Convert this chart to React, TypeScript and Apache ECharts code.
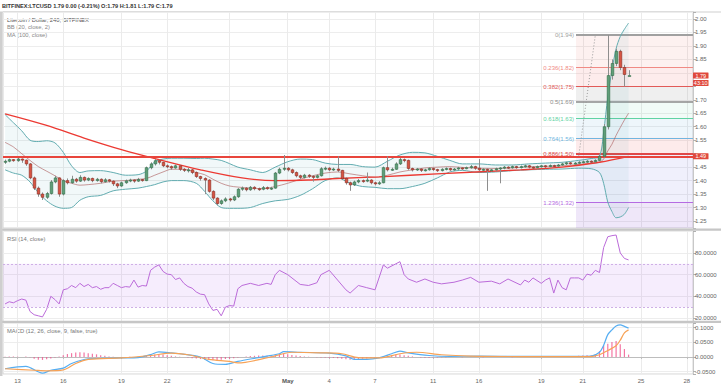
import React, { useEffect, useRef } from 'react';
import * as echarts from 'echarts';

const FONT = '"Liberation Sans", Arial, sans-serif';

// ---------- DATA ----------
// candles: [open, close, low, high] (4H bars)
const candles: number[][] = [
  [1.468, 1.472, 1.462, 1.478], [1.472, 1.478, 1.468, 1.482], [1.478, 1.474, 1.470, 1.480], [1.474, 1.480, 1.470, 1.484],
  [1.480, 1.476, 1.466, 1.482], [1.476, 1.462, 1.455, 1.478], [1.462, 1.410, 1.405, 1.465], [1.410, 1.372, 1.365, 1.415],
  [1.372, 1.350, 1.340, 1.378], [1.350, 1.338, 1.328, 1.356], [1.338, 1.352, 1.332, 1.358], [1.352, 1.395, 1.348, 1.402],
  [1.395, 1.410, 1.390, 1.418], [1.410, 1.350, 1.340, 1.412], [1.350, 1.400, 1.345, 1.405], [1.400, 1.392, 1.386, 1.408],
  [1.392, 1.405, 1.388, 1.418], [1.405, 1.398, 1.392, 1.410], [1.398, 1.412, 1.395, 1.420], [1.412, 1.402, 1.396, 1.415],
  [1.402, 1.408, 1.398, 1.412], [1.408, 1.400, 1.394, 1.411], [1.400, 1.405, 1.396, 1.410], [1.405, 1.396, 1.390, 1.408],
  [1.396, 1.403, 1.392, 1.409], [1.403, 1.398, 1.393, 1.406], [1.398, 1.388, 1.380, 1.401], [1.388, 1.380, 1.372, 1.392],
  [1.380, 1.392, 1.377, 1.396], [1.392, 1.399, 1.388, 1.404], [1.399, 1.402, 1.394, 1.407], [1.402, 1.398, 1.392, 1.405],
  [1.398, 1.404, 1.395, 1.410], [1.404, 1.400, 1.396, 1.406], [1.400, 1.448, 1.398, 1.452], [1.448, 1.462, 1.442, 1.468],
  [1.462, 1.474, 1.456, 1.480], [1.474, 1.468, 1.460, 1.478], [1.468, 1.455, 1.450, 1.470], [1.455, 1.452, 1.446, 1.460],
  [1.452, 1.447, 1.440, 1.456], [1.447, 1.455, 1.444, 1.460], [1.455, 1.442, 1.436, 1.458], [1.442, 1.438, 1.432, 1.446],
  [1.438, 1.440, 1.430, 1.447], [1.440, 1.430, 1.424, 1.443], [1.430, 1.415, 1.410, 1.434], [1.415, 1.408, 1.400, 1.418],
  [1.408, 1.402, 1.350, 1.412], [1.402, 1.360, 1.355, 1.405], [1.360, 1.335, 1.328, 1.364], [1.335, 1.315, 1.308, 1.338],
  [1.315, 1.325, 1.310, 1.330], [1.325, 1.332, 1.320, 1.338], [1.332, 1.328, 1.322, 1.336], [1.328, 1.340, 1.324, 1.345],
  [1.340, 1.368, 1.336, 1.372], [1.368, 1.372, 1.362, 1.378], [1.372, 1.366, 1.360, 1.376], [1.366, 1.375, 1.362, 1.380],
  [1.375, 1.370, 1.364, 1.379], [1.370, 1.368, 1.362, 1.374], [1.368, 1.374, 1.364, 1.380], [1.374, 1.370, 1.366, 1.378],
  [1.370, 1.372, 1.365, 1.377], [1.372, 1.428, 1.370, 1.432], [1.428, 1.442, 1.424, 1.448], [1.442, 1.446, 1.436, 1.495],
  [1.446, 1.440, 1.434, 1.450], [1.440, 1.430, 1.425, 1.444], [1.430, 1.418, 1.412, 1.434], [1.418, 1.412, 1.405, 1.422],
  [1.412, 1.420, 1.408, 1.425], [1.420, 1.416, 1.410, 1.424], [1.416, 1.412, 1.396, 1.420], [1.412, 1.418, 1.408, 1.423],
  [1.418, 1.444, 1.415, 1.450], [1.444, 1.446, 1.438, 1.452], [1.446, 1.440, 1.435, 1.450], [1.440, 1.443, 1.436, 1.448],
  [1.443, 1.438, 1.432, 1.490], [1.438, 1.408, 1.402, 1.440], [1.408, 1.392, 1.385, 1.412], [1.392, 1.384, 1.362, 1.396],
  [1.384, 1.395, 1.380, 1.400], [1.395, 1.400, 1.390, 1.406], [1.400, 1.398, 1.392, 1.404], [1.398, 1.402, 1.394, 1.430],
  [1.402, 1.392, 1.386, 1.405], [1.392, 1.388, 1.382, 1.396], [1.388, 1.392, 1.384, 1.398], [1.392, 1.448, 1.390, 1.452],
  [1.448, 1.440, 1.434, 1.490], [1.440, 1.442, 1.436, 1.448], [1.442, 1.462, 1.440, 1.468], [1.462, 1.478, 1.458, 1.484],
  [1.478, 1.475, 1.468, 1.482], [1.475, 1.445, 1.440, 1.478], [1.445, 1.440, 1.434, 1.448], [1.440, 1.443, 1.436, 1.447],
  [1.443, 1.438, 1.432, 1.446], [1.438, 1.440, 1.434, 1.444], [1.440, 1.445, 1.437, 1.450], [1.445, 1.441, 1.436, 1.448],
  [1.441, 1.437, 1.432, 1.444], [1.437, 1.442, 1.434, 1.446], [1.442, 1.445, 1.438, 1.449], [1.445, 1.440, 1.436, 1.448],
  [1.440, 1.443, 1.437, 1.447], [1.443, 1.447, 1.440, 1.451], [1.447, 1.445, 1.440, 1.450], [1.445, 1.448, 1.442, 1.452],
  [1.448, 1.452, 1.444, 1.458], [1.452, 1.446, 1.440, 1.455], [1.446, 1.440, 1.436, 1.480], [1.440, 1.442, 1.436, 1.446],
  [1.442, 1.438, 1.362, 1.445], [1.438, 1.440, 1.434, 1.444], [1.440, 1.444, 1.436, 1.448], [1.444, 1.447, 1.390, 1.450],
  [1.447, 1.450, 1.442, 1.454], [1.450, 1.448, 1.443, 1.453], [1.448, 1.452, 1.444, 1.456], [1.452, 1.449, 1.444, 1.455],
  [1.449, 1.452, 1.445, 1.456], [1.452, 1.455, 1.448, 1.459], [1.455, 1.450, 1.445, 1.458], [1.450, 1.448, 1.443, 1.453],
  [1.448, 1.452, 1.445, 1.456], [1.452, 1.455, 1.448, 1.458], [1.455, 1.452, 1.447, 1.458], [1.452, 1.456, 1.449, 1.460],
  [1.456, 1.454, 1.450, 1.459], [1.454, 1.458, 1.451, 1.462], [1.458, 1.462, 1.455, 1.466], [1.462, 1.466, 1.458, 1.470],
  [1.466, 1.463, 1.459, 1.469], [1.463, 1.465, 1.460, 1.469], [1.465, 1.468, 1.462, 1.472], [1.468, 1.470, 1.464, 1.474],
  [1.470, 1.472, 1.466, 1.476], [1.472, 1.470, 1.465, 1.475], [1.470, 1.475, 1.467, 1.479], [1.475, 1.490, 1.472, 1.500],
  [1.490, 1.600, 1.486, 1.610], [1.600, 1.790, 1.590, 1.940], [1.790, 1.835, 1.775, 1.850], [1.835, 1.880, 1.825, 1.890],
  [1.880, 1.820, 1.810, 1.886], [1.820, 1.794, 1.750, 1.830], [1.790, 1.790, 1.790, 1.810],
];

const TOTAL_SLOTS = 166;

// x-axis labels (category index -> text)
const xLabelIdx = [3, 14, 28, 39, 54, 68, 78, 89, 103, 114, 129, 139, 153, 164];
const xLabelText = ['13', '16', '19', '22', '27', 'May', '4', '7', '11', '16', '19', '21', '25', '28'];

// Bollinger Bands (20, close, 2) read at candle indices
const bbIdx = [0, 2, 4, 6, 8, 10, 12, 14, 16, 18, 20, 23, 26, 29, 32, 34, 36, 38, 40, 43, 46, 48, 50, 52, 54, 56, 59, 62, 65, 68, 71, 74, 77, 80, 83, 86, 89, 92, 95, 98, 101, 104, 107, 110, 114, 118, 122, 126, 130, 134, 138, 141, 143, 144, 145, 146, 147, 148, 149, 150];
const bbUpper = [1.645, 1.615, 1.585, 1.55, 1.545, 1.548, 1.54, 1.505, 1.455, 1.43, 1.436, 1.437, 1.43, 1.42, 1.422, 1.435, 1.47, 1.48, 1.483, 1.483, 1.482, 1.483, 1.48, 1.475, 1.463, 1.45, 1.44, 1.43, 1.45, 1.47, 1.48, 1.478, 1.465, 1.46, 1.46, 1.452, 1.45, 1.472, 1.495, 1.505, 1.503, 1.49, 1.475, 1.462, 1.462, 1.458, 1.458, 1.462, 1.465, 1.468, 1.475, 1.482, 1.49, 1.58, 1.71, 1.81, 1.89, 1.935, 1.962, 1.985];
const bbMid = [1.542, 1.525, 1.50, 1.475, 1.452, 1.435, 1.418, 1.40, 1.39, 1.383, 1.385, 1.39, 1.398, 1.40, 1.405, 1.408, 1.42, 1.432, 1.442, 1.442, 1.43, 1.422, 1.405, 1.39, 1.38, 1.376, 1.372, 1.37, 1.378, 1.39, 1.405, 1.418, 1.428, 1.432, 1.425, 1.418, 1.412, 1.42, 1.432, 1.44, 1.447, 1.45, 1.452, 1.449, 1.446, 1.445, 1.447, 1.451, 1.453, 1.455, 1.46, 1.464, 1.468, 1.48, 1.51, 1.535, 1.568, 1.597, 1.625, 1.65];
const bbLower = [1.44, 1.428, 1.42, 1.395, 1.355, 1.325, 1.305, 1.297, 1.30, 1.327, 1.34, 1.345, 1.362, 1.368, 1.372, 1.378, 1.385, 1.395, 1.40, 1.40, 1.39, 1.36, 1.325, 1.30, 1.297, 1.297, 1.30, 1.315, 1.325, 1.33, 1.345, 1.37, 1.40, 1.41, 1.39, 1.378, 1.375, 1.37, 1.37, 1.378, 1.39, 1.41, 1.432, 1.438, 1.43, 1.432, 1.437, 1.44, 1.442, 1.443, 1.446, 1.444, 1.43, 1.39, 1.32, 1.285, 1.262, 1.265, 1.275, 1.30];

// MA (100, close)
const maIdx = [0, 10, 19, 28, 37, 47, 57, 65, 73, 80, 90, 105, 124, 134, 143, 150];
const maVal = [1.648, 1.605, 1.558, 1.515, 1.478, 1.44, 1.41, 1.40, 1.402, 1.408, 1.414, 1.426, 1.44, 1.45, 1.468, 1.49];

// Horizontal level
const hLevel = 1.49;

// Fibonacci retracement
const fibStartIdx = 137;
const fibPrices = [1.94, 1.822, 1.75, 1.69, 1.632, 1.56, 1.497, 1.32];
const fibLabels = ['0(1.94)', '0.236(1.82)', '0.382(1.75)', '0.5(1.69)', '0.618(1.63)', '0.764(1.56)', '0.886(1.50)', '1.236(1.32)'];
const fibTrendIdx = [138, 142];
const fibTrendVal = [1.49, 1.94];

// Price tags on the right scale
const lastPrice = 1.79;
const countdown = '43:10';

// RSI (14, close)
const rsiIdx = [0, 1, 2, 3, 4, 5, 6, 7, 8, 9, 10, 11, 12, 13, 14, 15, 16, 17, 18, 19, 20, 21, 22, 23, 24, 25, 26, 27, 28, 29, 30, 31, 32, 33, 34, 35, 36, 37, 38, 39, 40, 41, 42, 43, 44, 45, 46, 47, 48, 49, 50, 51, 52, 53, 54, 55, 56, 57, 59, 61, 63, 64, 65, 66, 68, 70, 71, 73, 75, 76, 78, 80, 82, 83, 85, 87, 89, 91, 92, 94, 95, 96, 97, 99, 101, 103, 105, 108, 110, 112, 114, 117, 119, 121, 124, 125, 126, 127, 129, 130, 131, 132, 133, 134, 135, 136, 137, 138, 139, 140, 141, 142, 143, 144, 145, 146, 147, 148, 149, 150];
const rsiVal = [33, 35, 34, 36, 37.5, 36.5, 26, 23, 22, 21, 28, 40, 37, 33, 46, 47, 50, 48, 52, 49, 51, 48, 49, 46.5, 48, 48, 52, 50, 48, 49, 48.5, 55, 48.5, 50, 49.5, 64, 67, 69, 63, 60.5, 60, 55.5, 57, 52, 49, 47.5, 44, 42, 41.5, 33, 27, 28, 22, 30, 31.5, 31, 47, 50, 52, 50, 52, 51, 60, 64, 60, 54, 51, 50, 52.5, 60, 64, 55, 46, 43, 50, 48, 46, 69, 66, 70, 72, 60, 56, 53, 56, 53, 51.5, 53, 55, 57.5, 53, 54, 51.5, 56, 50.5, 55, 53, 57, 52, 55, 57, 43, 55, 48, 46, 57, 57, 57, 55, 60.5, 59.5, 64, 62, 85, 95, 96, 96.6, 80, 75, 73.6];

// MACD (12, 26, close, 9)
const macdIdx = [0, 5, 9, 11, 14, 16, 20, 23, 28, 32, 35, 37, 40, 42, 47, 50, 53, 56, 61, 66, 67, 71, 78, 82, 84, 87, 90, 93, 95, 97, 102, 107, 114, 124, 134, 141, 143, 144, 145, 146, 147, 148, 149, 150];
const macdVal = [-0.040, -0.032, -0.055, -0.045, -0.038, -0.022, -0.006, -0.005, -0.003, -0.002, 0.008, 0.017, 0.014, 0.011, 0.000, -0.022, -0.025, -0.015, -0.002, 0.011, 0.018, 0.016, 0.013, 0.004, -0.008, -0.008, -0.003, 0.011, 0.020, 0.014, 0.005, 0.002, 0.003, 0.002, 0.002, 0.003, 0.016, 0.040, 0.076, 0.092, 0.105, 0.109, 0.104, 0.098];
const signalIdx = [0, 7, 10, 14, 17, 20, 28, 35, 40, 44, 49, 54, 56, 64, 69, 76, 81, 85, 90, 95, 99, 105, 112, 124, 141, 143, 145, 147, 148, 149, 150];
const signalVal = [-0.040, -0.045, -0.047, -0.044, -0.022, -0.008, -0.003, 0.005, 0.013, 0.0075, -0.008, -0.015, -0.020, 0.000, 0.016, 0.014, 0.011, -0.002, -0.003, 0.011, 0.016, 0.0075, 0.003, 0.0015, 0.0015, 0.0075, 0.022, 0.038, 0.057, 0.082, 0.092];
// histogram, in thousandths, one per candle
const histMilli = [
  1, 2, 2, 1, 0, 2, -1, -6, -9, -10, -8, -5, -2, 2, 6, 10, 13, 15, 16, 15, 13, 11, 9,
  6, 4, 2, 1, 0, -1, 0, 1, 0, 1, 0, 3, 6, 8, 9, 8, 6, 4, 2, 1, 0, -2, -4, -5,
  -7, -9, -10, -11, -10, -9, -7, -6, -4, -2, 0, 2, 3, 4, 5, 5, 4, 6, 8, 10, 10, 9, 7, 5, 3, 2,
  1, 0, -1, -2, -2, -3, -3, -4, -6, -8, -9, -9, -8, -6, -5, -3, -2, 0, 3, 5, 7, 8, 8, 6, 4,
  2, 0, -2, -3, -3, -2, -2, -1, -1,
  0, 1, 0, -1, 0, 1, 1, 0, -1, 0, 1, 0, 0, 1, 0, -1, 0, 0, 1, 0, 1, 1, 0, 1, 1, 2, 1, 2, 2, 3, 3, 4, 5, 6,
  6, 10, 20, 40, 45, 51, 54, 43, 27, 8,
];

// ---------- STYLE ----------
const fibColors = ['#a0a0a0', '#f08a84', '#e25a58', '#8c8c8c', '#5fd3a3', '#70b6e0', '#e04848', '#b56be2'];
const fibWidths = [2, 1, 1, 1.5, 1, 1, 2, 1];
const fibFills = [
  'rgba(235,90,80,0.085)', 'rgba(235,80,80,0.11)', 'rgba(110,110,110,0.11)', 'rgba(60,200,140,0.07)',
  'rgba(70,150,210,0.09)', 'rgba(235,70,70,0.11)', 'rgba(90,90,220,0.09)', 'rgba(130,70,210,0.13)',
];

const pairs = (idx: number[], val: number[]) => idx.map((x, k) => [x, val[k]]);
const isMult = (v: number, step: number) => Math.abs(v / step - Math.round(v / step)) < 1e-6;
const labelSet = new Set(xLabelIdx);
const showAt = (index: number) => labelSet.has(index);
const cats = Array.from({ length: TOTAL_SLOTS }, (_, i) => String(i));

// price-scale labels that sit under the red price tags are covered, as on the reference
const coveredByTag = (v: number) =>
  Math.abs(v - lastPrice) < 0.015 || Math.abs(v - hLevel) < 0.015 || (v < lastPrice && lastPrice - v < 0.045);

function xAxis(gridIndex: number, withLabels: boolean) {
  return {
    type: 'category',
    gridIndex,
    data: cats,
    boundaryGap: true,
    axisLine: { show: withLabels, lineStyle: { color: '#bdbdbd' } },
    axisTick: { show: withLabels, interval: showAt, alignWithLabel: true, length: 2, lineStyle: { color: '#bdbdbd' } },
    axisLabel: {
      show: withLabels,
      interval: showAt,
      margin: 4,
      fontSize: 6,
      color: '#666',
      fontFamily: FONT,
      formatter: (v: string) => {
        const k = xLabelIdx.indexOf(Number(v));
        if (k < 0) return '';
        return xLabelText[k] === 'May' ? '{b|May}' : xLabelText[k];
      },
      rich: { b: { fontWeight: 'bold', fontSize: 6, color: '#555', fontFamily: FONT } },
    },
    splitLine: { show: true, interval: showAt, alignWithLabel: true, lineStyle: { color: '#ebebeb', width: 1 } },
  };
}

function yAxis(gridIndex: number, min: number, max: number, step: number, fmt: (v: number) => string) {
  return {
    type: 'value',
    gridIndex,
    position: 'right',
    min,
    max,
    splitNumber: Math.round((max - min) / step),
    minInterval: step,
    maxInterval: step,
    axisLine: { show: true, lineStyle: { color: '#c8c8c8' } },
    axisTick: { show: true, length: 3, lineStyle: { color: '#b0b0b0' } },
    axisLabel: {
      margin: 2,
      fontSize: 6,
      color: '#666',
      fontFamily: FONT,
      formatter: (v: number) => (isMult(v, step) ? fmt(v) : ''),
    },
    splitLine: { show: true, lineStyle: { color: '#ededed', width: 1 } },
  };
}

function buildOption() {
  const lineBase = { type: 'line', symbol: 'none', silent: true, xAxisIndex: 0, yAxisIndex: 0 };
  return {
    animation: false,
    backgroundColor: '#ffffff',
    textStyle: { fontFamily: FONT },
    grid: [
      { left: 3, right: 28, top: 12, height: 216, show: true, borderColor: '#d4d4d4', borderWidth: 1 },
      { left: 3, right: 28, top: 231, height: 91, show: true, borderColor: '#d4d4d4', borderWidth: 1 },
      { left: 3, right: 28, top: 323, height: 53, show: true, borderColor: '#d4d4d4', borderWidth: 1 },
    ],
    xAxis: [xAxis(0, false), xAxis(1, false), xAxis(2, true)],
    yAxis: [
      yAxis(0, 1.224, 2.026, 0.05, (v) => (coveredByTag(v) ? '' : v.toFixed(2))),
      yAxis(1, 16.3, 100.3, 20, (v) => (v > 10 && v < 90 ? v.toFixed(4) : '')),
      yAxis(2, -0.0578, 0.1154, 0.05, (v) => v.toFixed(4)),
    ],
    graphic: [
      { type: 'rect', shape: { x: 0, y: 11.5, width: 721, height: 1 }, style: { fill: '#d0d0d0' }, silent: true },
      { type: 'rect', shape: { x: 0, y: 228.5, width: 721, height: 2.2 }, style: { fill: '#c6c6c6' }, silent: true, z: 100 },
      { type: 'rect', shape: { x: 0, y: 320.8, width: 721, height: 2.2 }, style: { fill: '#c6c6c6' }, silent: true, z: 100 },
      { type: 'rect', shape: { x: 0, y: 12, width: 2.5, height: 364 }, style: { fill: '#cfcfcf' }, silent: true, z: 100 },
      { type: 'text', x: 2, y: 5.5, silent: true, style: { text: 'BITFINEX:LTCUSD 1.79 0.00 (-0.21%) O:1.79 H:1.81 L:1.79 C:1.79', fill: '#333', fontSize: 5.6, fontWeight: 'bold', fontFamily: FONT, verticalAlign: 'middle' } },
      { type: 'text', x: 7, y: 19.5, silent: true, style: { text: 'Litecoin / Dollar, 240, BITFINEX', fill: '#555', fontSize: 5.8, fontFamily: FONT, verticalAlign: 'middle' } },
      { type: 'text', x: 7, y: 27, silent: true, style: { text: 'BB (20, close, 2)', fill: '#888', fontSize: 5.8, fontFamily: FONT, verticalAlign: 'middle' } },
      { type: 'text', x: 7, y: 34.5, silent: true, style: { text: 'MA (100, close)', fill: '#888', fontSize: 5.8, fontFamily: FONT, verticalAlign: 'middle' } },
      { type: 'text', x: 7, y: 238.5, silent: true, style: { text: 'RSI (14, close)', fill: '#777', fontSize: 5.8, fontFamily: FONT, verticalAlign: 'middle' } },
      { type: 'text', x: 7, y: 330.5, silent: true, style: { text: 'MACD (12, 26, close, 9, false, true)', fill: '#777', fontSize: 5.8, fontFamily: FONT, verticalAlign: 'middle' } },
    ],
    series: [
      // Fibonacci retracement
      {
        type: 'custom',
        xAxisIndex: 0,
        yAxisIndex: 0,
        silent: true,
        z: 1,
        data: [[fibStartIdx, fibPrices[0]]],
        renderItem: (params: any, api: any) => {
          const cs = params.coordSys;
          const x0 = Math.round(api.coord([fibStartIdx, fibPrices[0]])[0]) + 1;
          const x1 = cs.x + cs.width;
          const yb = cs.y + cs.height;
          const ys = fibPrices.map((p) => api.coord([fibStartIdx, p])[1]);
          const children: any[] = [];
          ys.forEach((y, k) => {
            const yn = k + 1 < ys.length ? ys[k + 1] : yb;
            children.push({ type: 'rect', shape: { x: x0, y, width: x1 - x0, height: yn - y }, style: { fill: fibFills[k] } });
          });
          ys.forEach((y, k) => {
            const yy = Math.round(y) + (fibWidths[k] === 1 ? 0.5 : 0);
            children.push({ type: 'line', shape: { x1: x0, y1: yy, x2: x1, y2: yy }, style: { stroke: fibColors[k], lineWidth: fibWidths[k] } });
            children.push({
              type: 'text',
              style: { text: fibLabels[k], x: x0 - 2, y: yy, align: 'right', verticalAlign: 'middle', fill: fibColors[k], fontSize: 6, fontFamily: FONT },
            });
          });
          const a = api.coord([fibTrendIdx[0], fibTrendVal[0]]);
          const b = api.coord([fibTrendIdx[1], fibTrendVal[1]]);
          children.push({ type: 'line', shape: { x1: a[0], y1: a[1], x2: b[0], y2: b[1] }, style: { stroke: '#9a9a9a', lineWidth: 1, lineDash: [1, 2] } });
          return { type: 'group', children };
        },
      },
      // Bollinger fill
      {
        type: 'custom',
        xAxisIndex: 0,
        yAxisIndex: 0,
        silent: true,
        z: 2,
        data: [[bbIdx[0], bbUpper[0]]],
        renderItem: (params: any, api: any) => {
          const pts: number[][] = [];
          for (let k = 0; k < bbIdx.length; k++) pts.push(api.coord([bbIdx[k], bbUpper[k]]));
          for (let k = bbIdx.length - 1; k >= 0; k--) pts.push(api.coord([bbIdx[k], bbLower[k]]));
          return { type: 'polygon', shape: { points: pts }, style: { fill: 'rgba(70,165,170,0.075)' } };
        },
      },
      { ...lineBase, z: 3, name: 'BB upper', data: pairs(bbIdx, bbUpper), smooth: 0.3, lineStyle: { color: '#62acb0', width: 1 } },
      { ...lineBase, z: 3, name: 'BB lower', data: pairs(bbIdx, bbLower), smooth: 0.3, lineStyle: { color: '#62acb0', width: 1 } },
      { ...lineBase, z: 3, name: 'BB basis', data: pairs(bbIdx, bbMid), smooth: 0.3, lineStyle: { color: 'rgba(170,85,85,0.75)', width: 0.8 } },
      {
        ...lineBase,
        z: 4,
        name: 'MA 100',
        data: pairs(maIdx, maVal),
        smooth: 0.35,
        lineStyle: { color: '#ec3a33', width: 1.4 },
        markLine: {
          silent: true,
          symbol: ['none', 'none'],
          label: { show: false },
          lineStyle: { color: '#e8453c', width: 2, type: 'solid' },
          data: [{ yAxis: hLevel }],
        },
      },
      // candles
      {
        type: 'custom',
        name: 'LTCUSD',
        xAxisIndex: 0,
        yAxisIndex: 0,
        z: 5,
        silent: true,
        encode: { x: 0, y: [1, 2, 3, 4] },
        data: candles.map((d, i) => [i, d[0], d[1], d[2], d[3]]),
        renderItem: (params: any, api: any) => {
          const i = api.value(0);
          const o = api.value(1);
          const c = api.value(2);
          const l = api.value(3);
          const h = api.value(4);
          const po = api.coord([i, o]);
          const pc = api.coord([i, c]);
          const pl = api.coord([i, l]);
          const ph = api.coord([i, h]);
          const w = Math.max(1.5, api.size([1, 0])[0] * 0.62);
          const up = c >= o;
          const xm = Math.round(po[0]) + 0.5;
          const top = Math.min(po[1], pc[1]);
          const hh = Math.max(1, Math.abs(po[1] - pc[1]));
          return {
            type: 'group',
            children: [
              { type: 'line', shape: { x1: xm, y1: pl[1], x2: xm, y2: ph[1] }, style: { stroke: '#8e8e8e', lineWidth: 1 } },
              {
                type: 'rect',
                shape: { x: xm - w / 2, y: top, width: w, height: hh },
                style: { fill: up ? '#5f9e78' : '#d75442', stroke: up ? '#2f6b47' : '#8a2a20', lineWidth: 0.6 },
              },
            ],
          };
        },
      },
      // price tags on the scale
      {
        type: 'custom',
        xAxisIndex: 0,
        yAxisIndex: 0,
        z: 20,
        silent: true,
        data: [[candles.length - 1, lastPrice]],
        renderItem: (params: any, api: any) => {
          const cs = params.coordSys;
          const xr = cs.x + cs.width;
          const y1 = api.coord([0, lastPrice])[1];
          const y2 = api.coord([0, hLevel])[1];
          const tag = (y: number, text: string) => [
            { type: 'rect', shape: { x: xr, y: y - 3, width: 15.5, height: 6, r: 0.5 }, style: { fill: '#e0493d' } },
            { type: 'text', style: { text, x: xr + 7.75, y, align: 'center', verticalAlign: 'middle', fill: '#fff', fontSize: 5.5, fontFamily: FONT } },
          ];
          return {
            type: 'group',
            children: [...tag(y1, lastPrice.toFixed(2)), ...tag(y1 + 7.5, countdown), ...tag(y2, hLevel.toFixed(2))],
          };
        },
      },
      // RSI
      {
        type: 'line',
        name: 'RSI',
        xAxisIndex: 1,
        yAxisIndex: 1,
        symbol: 'none',
        silent: true,
        data: pairs(rsiIdx, rsiVal),
        lineStyle: { color: '#bb6bd9', width: 1 },
        markArea: {
          silent: true,
          itemStyle: { color: 'rgba(165,80,235,0.1)' },
          label: { show: false },
          data: [[{ yAxis: 30 }, { yAxis: 70 }]],
        },
        markLine: {
          silent: true,
          symbol: ['none', 'none'],
          label: { show: false },
          lineStyle: { color: '#cfb0e6', width: 1, type: [2, 2] },
          data: [{ yAxis: 30 }, { yAxis: 70 }],
        },
      },
      // MACD histogram
      {
        type: 'bar',
        name: 'Histogram',
        xAxisIndex: 2,
        yAxisIndex: 2,
        silent: true,
        barWidth: 1.2,
        data: histMilli.map((v) => v / 1000),
        itemStyle: { color: 'rgba(240,84,140,0.8)' },
      },
      {
        type: 'line',
        name: 'MACD',
        xAxisIndex: 2,
        yAxisIndex: 2,
        symbol: 'none',
        silent: true,
        smooth: 0.3,
        data: pairs(macdIdx, macdVal),
        lineStyle: { color: '#56aef2', width: 1.2 },
      },
      {
        type: 'line',
        name: 'Signal',
        xAxisIndex: 2,
        yAxisIndex: 2,
        symbol: 'none',
        silent: true,
        smooth: 0.3,
        data: pairs(signalIdx, signalVal),
        lineStyle: { color: '#f7a256', width: 1.2 },
      },
    ],
  };
}

export default function App() {
  const ref = useRef<HTMLDivElement>(null);
  useEffect(() => {
    if (!ref.current) return;
    const chart = echarts.init(ref.current, null, { renderer: 'svg' });
    chart.setOption(buildOption() as any);
    return () => chart.dispose();
  }, []);
  return <div ref={ref} style={{ position: 'fixed', left: 0, top: 0, width: 721, height: 384 }} />;
}
